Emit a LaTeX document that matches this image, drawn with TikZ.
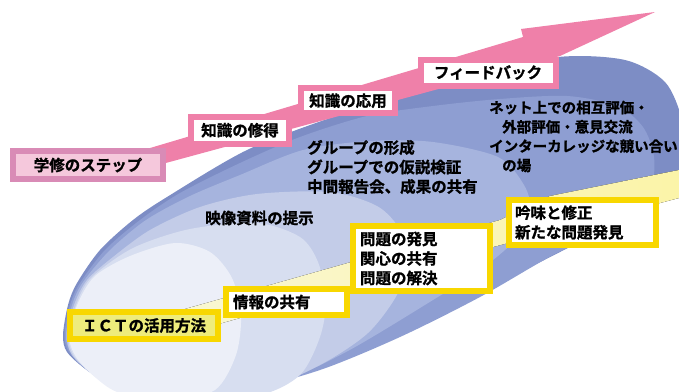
\documentclass[tikz,border=0pt]{standalone}
\usepackage{fontspec}
\usepackage{xcolor}
\setmainfont{Noto Sans CJK JP}[BoldFont={Noto Sans CJK JP Bold}, BoldFeatures={FakeBold=1.2}]

\definecolor{layera}{HTML}{7D8DC5}
\definecolor{layerb}{HTML}{8E9ED2}
\definecolor{layerc}{HTML}{A6B4DE}
\definecolor{layerd}{HTML}{C3CCE8}
\definecolor{layere}{HTML}{D7DEF0}
\definecolor{layerf}{HTML}{ECEFF8}
\definecolor{stepink}{HTML}{EF80A9}
\definecolor{mauve}{HTML}{D98BB6}
\definecolor{blush}{HTML}{F5C8DC}
\definecolor{gold}{HTML}{F8D700}
\definecolor{lemon}{HTML}{EEEC7C}
\definecolor{cream}{HTML}{FBF4A8}
\definecolor{creamlight}{HTML}{F9F7D2}

\tikzset{
  jtext/.style={font=\fontsize{15.5}{19.5}\selectfont\bfseries, inner sep=0pt, align=left},
  pinkbox/.style={jtext, draw=stepink, line width=6pt, fill=white, align=center},
  goldbox/.style={jtext, draw=gold, line width=6pt, fill=white},
}

\begin{document}
\begin{tikzpicture}[x=1pt, y=-1pt]
\useasboundingbox (0,0) rectangle (679,391);

\fill[layera] plot[smooth cycle] coordinates {(63,335) (68,305) (77,283) (100,250) (133,220) (167,197) (247,150) (333,117) (400,97) (470,76) (558,57) (625,60) (665,82) (682,120) (684,160) (668,192) (625,222) (570,247) (450,308) (340,360) (250,388) (167,393) (117,385) (87,370) (67,352)};
\fill[layerb] plot[smooth cycle] coordinates {(64.5,335) (70,305) (80,283) (105,250) (140,220) (180,193) (240,163) (300,137) (367,116) (433,106) (500,99) (567,96) (617,106) (643,127) (654,157) (650,190) (620,222) (553,255) (480,297) (400,337) (320,370) (240,391) (167,394) (117,386) (88,371) (69,352)};
\fill[layerc] plot[smooth cycle] coordinates {(66,335) (72,305) (83,282) (110,250) (146,220) (190,196) (240,175) (303,150) (370,141) (433,142) (498,157) (524,185) (530,210) (515,240) (480,270) (433,300) (346,352) (270,386) (190,396) (120,388) (90,372) (71,353)};
\fill[layerd] plot[smooth cycle] coordinates {(67,335) (74,305) (87,280) (113,257) (150,230) (200,207) (257,194) (330,192) (377,206) (400,230) (405,260) (398,293) (368,333) (320,365) (260,390) (190,397) (125,390) (93,374) (72,355)};
\fill[layere] plot[smooth cycle] coordinates {(68,335) (76,305) (91,278) (133,248) (190,229) (257,223) (300,237) (318,262) (326,300) (320,337) (300,375) (260,395) (190,399) (125,392) (95,376) (74,356)};
\fill[layerf] plot[smooth cycle] coordinates {(69,335) (78,303) (95,276) (130,256) (175,243) (210,252) (232,278) (241,315) (236,355) (215,390) (170,400) (120,393) (96,378) (76,357)};

\fill[stepink] (140,151) -- (523,37) -- (521,29) -- (655,12) -- (560,56) -- (140,170) -- cycle;
\fill[left color=creamlight, right color=cream] (185,309) -- (500,220) -- (550,196) -- (679,170) -- (679,198) -- (493,247) -- (215,325) -- cycle;

\node[pinkbox, draw=mauve, fill=blush, minimum width=150pt, minimum height=28pt] (step) at (88,165) {学修のステップ};
\node[pinkbox, minimum width=98pt, minimum height=27.5pt] (acquire) at (240,130.3) {知識の修得};
\node[pinkbox, minimum width=94pt, minimum height=24.5pt] (apply) at (348,100.7) {知識の応用};
\node[pinkbox, minimum width=135pt, minimum height=26pt] (feedback) at (488,72.5) {フィードバック};

\node[goldbox, fill=lemon, align=center, minimum width=148pt, minimum height=27pt] (ict) at (144,325.5) {ＩＣＴの活用方法};
\node[goldbox, inner xsep=7pt, text width=107pt, minimum height=26pt] (share) at (286.5,302) {情報の共有};
\node[goldbox, inner xsep=7pt, text width=123pt, minimum height=65pt] (problem) at (421.5,258.5) {問題の発見\\関心の共有\\問題の解決};
\node[goldbox, inner xsep=6pt, text width=135pt, minimum height=45pt] (review) at (582.5,222.5) {吟味と修正\\新たな問題発見};

\node[jtext, anchor=west] (video) at (205,218) {映像資料の提示};
\node[jtext, anchor=west] (group) at (307,167) {グループの形成\\グループでの仮説検証\\中間報告会、成果の共有};
\node[jtext, anchor=west, font=\fontsize{14.5}{19.3}\selectfont\bfseries] (net) at (489,136.5) {ネット上での相互評価・\\\hspace*{13pt}外部評価・意見交流\\インターカレッジな競い合い\\\hspace*{13pt}の場};

\end{tikzpicture}
\end{document}
